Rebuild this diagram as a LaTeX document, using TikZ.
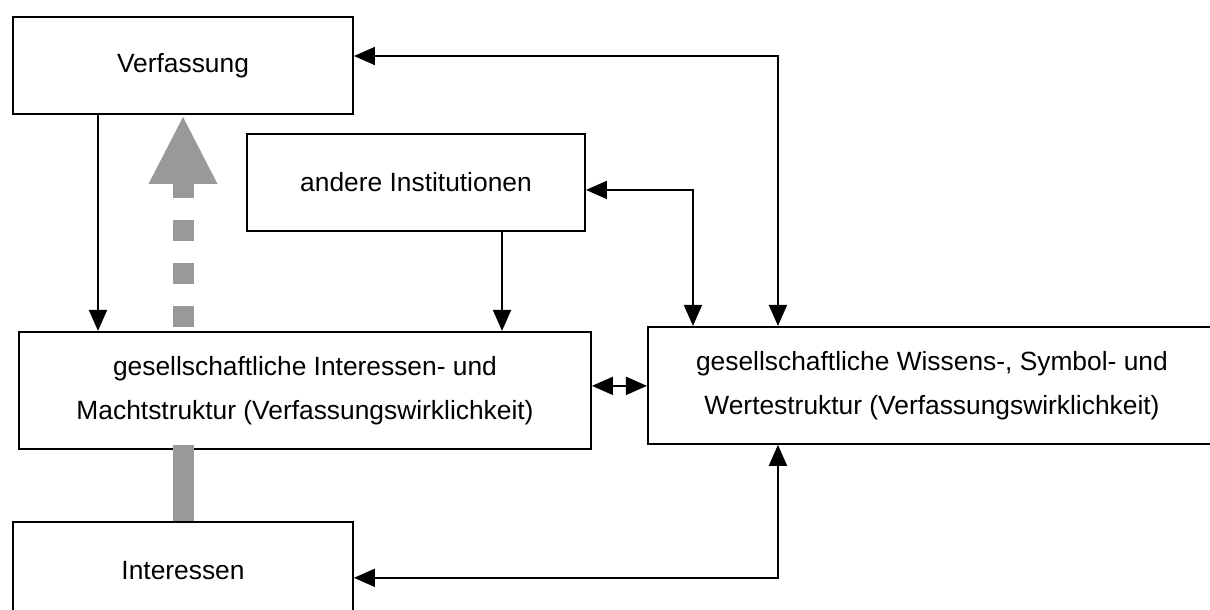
\documentclass[tikz,border=0pt]{standalone}
\usepackage{fontspec}
\setmainfont{Liberation Sans}
\usepackage{xcolor}
\usepackage{tikz}
\usetikzlibrary{arrows.meta,positioning}
\definecolor{arrgray}{RGB}{153,153,153}

\begin{document}
\begin{tikzpicture}[
    every node/.style={font=\fontsize{15pt}{25pt}\selectfont},
    box/.style={draw, line width=1.1pt, align=center, minimum height=1.94cm, minimum width=6.8cm},
    widebox/.style={box, minimum height=2.34cm},
    arr/.style={-{Triangle[length=0.42cm, width=0.36cm]}, line width=1.1pt},
    dbl/.style={{Triangle[length=0.42cm, width=0.36cm]}-{Triangle[length=0.42cm, width=0.36cm]}, line width=1.1pt},
    bigarr/.style={-{Triangle[length=1.34cm, width=1.38cm, line width=0pt]}, arrgray, line width=0.42cm, dash pattern=on 0.42cm off 0.44cm},
    bigline/.style={arrgray, line width=0.42cm}
]
\useasboundingbox (0,0) rectangle (24.2,-12.18);

\node[box] (verf) at (3.66,-1.31) {Verfassung};
\node[box, below=0.36cm of verf, xshift=4.66cm, minimum width=6.76cm] (andere) {andere Institutionen};
\node[widebox, below=1.98cm of andere, xshift=-2.22cm, minimum width=11.44cm] (macht) {gesellschaftliche Interessen- und\\Machtstruktur (Verfassungswirklichkeit)};
\node[widebox, right=1.1cm of macht, yshift=0.1cm, minimum width=11.36cm] (wissen) {gesellschaftliche Wissens-, Symbol- und\\Wertestruktur (Verfassungswirklichkeit)};
\node[box, below=1.42cm of macht, xshift=-2.44cm] (inter) {Interessen};

\draw[arr] ([xshift=-1.7cm]verf.south) -- ([xshift=-1.7cm]verf.south |- macht.north);
\draw[arr] ([xshift=1.72cm]andere.south) -- ([xshift=1.72cm]andere.south |- macht.north);
\draw[dbl] ([yshift=0.09cm]macht.east) -- ([yshift=0.09cm]macht.east -| wissen.west);
\draw[dbl] ([yshift=-0.15cm]andere.east) -| ([xshift=-4.78cm]wissen.north);
\draw[dbl] ([yshift=0.19cm]verf.east) -| ([xshift=-3.08cm]wissen.north);
\draw[dbl] ([yshift=-0.15cm]inter.east) -| ([xshift=-3.08cm]wissen.south);

% grey arrows
\draw[bigarr, shorten <=0.08cm, shorten >=0.04cm] (verf.south |- macht.north) -- (verf.south);
\draw[bigline, shorten >=-0.1cm] (inter.north) -- (inter.north |- macht.south);
\end{tikzpicture}
\end{document}
